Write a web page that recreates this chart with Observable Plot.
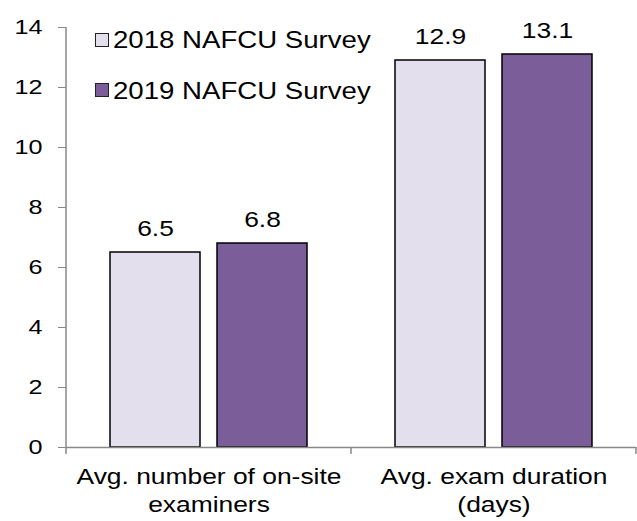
<!DOCTYPE html>
<html>
<head>
<meta charset="utf-8">
<script src="https://cdn.jsdelivr.net/npm/d3@7"></script>
<script src="https://cdn.jsdelivr.net/npm/@observablehq/plot@0.6"></script>
<style>
  html, body { margin: 0; padding: 0; background: #fff; }
  #wrap { position: relative; width: 637px; height: 521px; font-family: "Liberation Sans", Arial, sans-serif; color: #000; }
  .lg-swatch { position: absolute; width: 12px; height: 12px; border: 1px solid #222; }
  .lg-text { position: absolute; font-size: 23px; line-height: 23px; white-space: nowrap; transform: scaleX(1.2); transform-origin: left center; }
</style>
</head>
<body>
<div id="wrap"></div>
<script>
// ---- data ----
const categories = ["Avg. number of on-site examiners", "Avg. exam duration (days)"];
const categoryLabels = ["Avg. number of on-site\nexaminers", "Avg. exam duration\n(days)"];
const seriesNames = ["2018 NAFCU Survey", "2019 NAFCU Survey"];
const values2018 = [6.5, 12.9];
const values2019 = [6.8, 13.1];
const yTicks = [0, 2, 4, 6, 8, 10, 12, 14];
const seriesColors = ["#E4DFEC", "#7B5E99"];

const seriesValues = [values2018, values2019];
const data = categories.flatMap((c, i) =>
  seriesNames.map((s, j) => ({category: c, series: s, value: seriesValues[j][i]}))
);
const labelOf = new Map(categories.map((c, i) => [c, categoryLabels[i]]));

const plot = Plot.plot({
  width: 637,
  height: 521,
  marginTop: 27,
  marginBottom: 74,
  marginLeft: 66,
  marginRight: 1,
  style: {fontFamily: "'Liberation Sans', Arial, sans-serif", background: "white", color: "black"},
  fx: {domain: categories, padding: 0, label: null},
  x: {domain: seriesNames, paddingInner: 0.159, paddingOuter: 0.411, axis: null},
  y: {domain: [0, 14], label: null},
  color: {domain: seriesNames, range: seriesColors},
  marks: [
    Plot.barY(data, {fx: "category", x: "series", y: "value", fill: "series", stroke: "black", strokeWidth: 1.5}),
    Plot.text(data, {fx: "category", x: "series", y: "value", text: d => d.value.toFixed(1), lineAnchor: "bottom", dy: -17, fontSize: 22, fill: "black"}),
    Plot.axisY({ticks: yTicks, tickSize: 8, tickPadding: 16, fontSize: 21, stroke: "#888", fill: "black", label: null, tickFormat: d => String(d)}),
    Plot.axisFx({anchor: "bottom", tickSize: 0, tickPadding: 17, fontSize: 22, lineHeight: 1.25, label: null, fill: "black", tickFormat: d => labelOf.get(d)}),
    Plot.ruleY([0], {stroke: "#888", strokeWidth: 1.5})
  ]
});

// horizontal stretch of text to match reference glyph proportions
d3.select(plot).selectAll("text").each(function () {
  const t = this.getAttribute("transform") || "";
  this.setAttribute("transform", (t + " scale(1.2,1)").trim());
});

// axis line and category boundary ticks, derived from the scales
const fxS = plot.scale("fx");
const yS = plot.scale("y");
const svg = d3.select(plot);
const g = svg.append("g").attr("stroke", "#888").attr("stroke-width", 1.5);
const x0 = fxS.apply(categories[0]);
g.append("line").attr("x1", x0).attr("x2", x0).attr("y1", yS.apply(14)).attr("y2", yS.apply(0));
const bounds = categories.map(c => fxS.apply(c)).concat([fxS.apply(categories[categories.length - 1]) + fxS.bandwidth]);
bounds.forEach(b => {
  g.append("line").attr("x1", b).attr("x2", b).attr("y1", yS.apply(0)).attr("y2", yS.apply(0) + 7);
});

const wrap = document.getElementById("wrap");
wrap.appendChild(plot);

// legend (overlaid at top-left of plot area)
seriesNames.forEach((s, i) => {
  const sw = document.createElement("div");
  sw.className = "lg-swatch";
  sw.style.left = "95px";
  sw.style.top = (33 + 50 * i) + "px";
  sw.style.background = seriesColors[i];
  wrap.appendChild(sw);
  const tx = document.createElement("div");
  tx.className = "lg-text";
  tx.style.left = "113px";
  tx.style.top = (29 + 51 * i) + "px";
  tx.textContent = s;
  wrap.appendChild(tx);
});
</script>
</body>
</html>
